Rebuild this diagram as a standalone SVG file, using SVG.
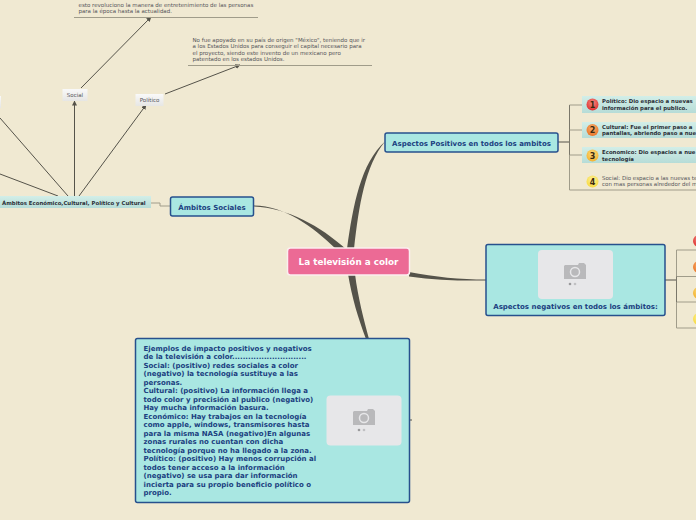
<svg xmlns="http://www.w3.org/2000/svg" width="696" height="520" viewBox="0 0 696 520">
<defs>
<style>
text{font-family:"DejaVu Sans",Verdana,sans-serif}
.blue{fill:#a9e7e2;stroke:#27508d;stroke-width:1.5}
.bt{font-size:7px;font-weight:bold;fill:#1b3f80}
.thin{fill:none;stroke:#55534a;stroke-width:1}
.mid{fill:none;stroke:#7a776a;stroke-width:1}
.pale{fill:none;stroke:#a09c8a;stroke-width:1}
.branch{fill:#55534a}
.strip{fill:url(#stripg)}
.st{font-size:5.4px;font-weight:bold;fill:#2c3038}
.nt{font-size:5.5px;fill:#55555a}
.tag{fill:url(#tagg)}
.ph{fill:#e7e7e9}
.cam{fill:#b9b9bb}
.num{font-size:8px;font-weight:bold;fill:#3a2a10;text-anchor:middle}
</style>
<linearGradient id="stripg" x1="0" y1="0" x2="0" y2="1"><stop offset="0" stop-color="#d2eee8"/><stop offset="1" stop-color="#b6dcd7"/></linearGradient>
<linearGradient id="tagg" x1="0" y1="0" x2="0" y2="1"><stop offset="0" stop-color="#f9f9f9"/><stop offset="1" stop-color="#e6e6e4"/></linearGradient>
<radialGradient id="r1" cx="0.5" cy="0.35" r="0.7"><stop offset="0" stop-color="#f58a80"/><stop offset="1" stop-color="#dc2b2b"/></radialGradient>
<radialGradient id="r2" cx="0.5" cy="0.35" r="0.7"><stop offset="0" stop-color="#f8b070"/><stop offset="1" stop-color="#e96f20"/></radialGradient>
<radialGradient id="r3" cx="0.5" cy="0.35" r="0.7"><stop offset="0" stop-color="#fbdc80"/><stop offset="1" stop-color="#f3ae28"/></radialGradient>
<radialGradient id="r4" cx="0.5" cy="0.35" r="0.7"><stop offset="0" stop-color="#fdf09a"/><stop offset="1" stop-color="#f6d838"/></radialGradient>
<marker id="ah" markerWidth="5" markerHeight="5" refX="4.500" refY="2.500" orient="auto"><path d="M0 0L5 2.500L0 5Z" fill="#55534a"/></marker>
<g id="camera">
<path class="cam" d="M-10 -7H3L4 -9H9L11 -7V7H-11V-6Z"/>
<circle cx="0" cy="0" r="4.500" fill="none" stroke="#e7e7e9" stroke-width="1.500"/>
<circle cx="-5" cy="12" r="1.300" fill="#9a9a9c"/><circle cx="0" cy="12" r="1.300" fill="#c0c0c2"/>
</g>
</defs>
<rect width="696" height="520" fill="#f0e9d2"/>
<g id="connectors">
<path class="branch" d="M254 205.500C285 206 312 226 336 249L346 249C320 226 288 208 254 206.500Z"/>
<path class="branch" d="M347 249C353 205 361 163 385 141.500C365 166 359 205 354 249Z"/>
<path class="branch" d="M409 272C435 277 460 279.500 486 279.500V280.500C460 281 435 280 409 276.500Z"/>
<path class="branch" d="M348 274L355 274C358 298 364 320 369 339L366 339C358 318 352 298 348 274Z"/>
<path class="pale" d="M170 206H160V203H151"/>
<path class="thin" d="M558 142H569"/>
<path class="mid" d="M569.500 105V155"/>
<path class="pale" d="M569.500 155V190H696M569.500 105H582M569.500 130H582M569.500 155H582"/>
<path class="thin" d="M665 280H676"/>
<path class="pale" d="M676.500 250V328H696M676.500 250H696M676.500 276.500H696M676.500 302H696"/>
<path class="mid" d="M676.500 276.500V302"/>
<path class="thin" d="M409 420H412"/>
<path class="thin" d="M58 196L0 174M68 196L0 118"/>
<path class="thin" d="M74.500 196V101" marker-end="url(#ah)"/>
<path class="thin" d="M79 196L146 105" marker-end="url(#ah)"/>
<path class="thin" d="M81 88L151 17" marker-end="url(#ah)"/>
<path class="thin" d="M165 94L240 65" marker-end="url(#ah)"/>
<path class="pale" d="M74 17.500H258M188 65.500H372"/>
</g>
<g id="central"><rect x="287.500" y="248" width="122" height="27" rx="3" fill="#ec6a95" stroke="#fbeef0" stroke-width="1.500"/><text x="348.500" y="265" text-anchor="middle" font-size="8.800" font-weight="bold" fill="#fff">La televisión a color</text></g>
<g id="ambitos"><rect class="blue" x="170.500" y="197" width="83" height="19" rx="2"/><text class="bt" x="212" y="209.500" text-anchor="middle">Ámbitos Sociales</text></g>
<g id="positivos"><rect class="blue" x="385" y="133" width="173" height="19" rx="2"/><text class="bt" x="471.500" y="145.500" text-anchor="middle">Aspectos Positivos en todos los ambitos</text></g>
<g id="negativos"><rect class="blue" x="486" y="244.500" width="179" height="71" rx="2"/><rect class="ph" x="538" y="250" width="75" height="49" rx="4"/><use href="#camera" x="575" y="272"/><text class="bt" x="575.500" y="308.500" text-anchor="middle">Aspectos negativos en todos los ámbitos:</text></g>
<g id="ejemplos"><rect class="blue" x="135.500" y="338.500" width="274" height="164" rx="2"/><rect class="ph" x="326.500" y="395.500" width="75" height="50" rx="4"/><use href="#camera" x="364" y="418"/>
<text class="bt"><tspan x="143.500" y="351">Ejemplos de impacto positivos y negativos</tspan><tspan x="143.500" y="359">de la televisión a color............................</tspan><tspan x="143.500" y="368">Social: (positivo) redes sociales a color</tspan><tspan x="143.500" y="376">(negativo) la tecnología sustituye a las</tspan><tspan x="143.500" y="385">personas.</tspan><tspan x="143.500" y="393">Cultural: (positivo) La información llega a</tspan><tspan x="143.500" y="402">todo color y precisión al publico (negativo)</tspan><tspan x="143.500" y="410">Hay mucha información basura.</tspan><tspan x="143.500" y="419">Económico: Hay trabajos en la tecnología</tspan><tspan x="143.500" y="427">como apple, windows, transmisores hasta</tspan><tspan x="143.500" y="436">para la misma NASA (negativo)En algunas</tspan><tspan x="143.500" y="444">zonas rurales no cuentan con dicha</tspan><tspan x="143.500" y="453">tecnología porque no ha llegado a la zona.</tspan><tspan x="143.500" y="461">Político: (positivo) Hay menos corrupción al</tspan><tspan x="143.500" y="470">todos tener acceso a la información</tspan><tspan x="143.500" y="478">(negativo) se usa para dar información</tspan><tspan x="143.500" y="487">incierta para su propio beneficio político o</tspan><tspan x="143.500" y="495">propio.</tspan></text></g>
<g id="sub-ambitos"><rect class="strip" x="0" y="196" width="151" height="12"/><text class="st" x="2" y="205">Ámbitos Económico,Cultural, Político y Cultural</text></g>
<g id="tag-social"><rect class="tag" x="62.500" y="89" width="25" height="12"/><text class="nt" x="75" y="97" text-anchor="middle">Social</text></g>
<g id="tag-politico"><rect class="tag" x="135.500" y="94" width="28" height="12"/><text class="nt" x="149.500" y="102" text-anchor="middle">Político</text></g>
<g id="tag-left"><rect class="tag" x="0" y="96" width="1" height="12"/></g>
<g id="note-social"><text class="nt"><tspan x="78.500" y="7">esto revoluciono la manera de entretenimiento de las personas</tspan><tspan x="78.500" y="13">para la época hasta la actualidad.</tspan></text></g>
<g id="note-politico"><text class="nt"><tspan x="192.500" y="42">No fue apoyado en su país de origen "México", teniendo que ir</tspan><tspan x="192.500" y="48">a los Estados Unidos para conseguir el capital necesario para</tspan><tspan x="192.500" y="55">el proyecto, siendo este invento de un mexicano pero</tspan><tspan x="192.500" y="61">patentado en los estados Unidos.</tspan></text></g>
<g id="pos-1"><rect class="strip" x="582" y="96" width="114" height="17"/><circle cx="592.500" cy="104.500" r="6" fill="url(#r1)"/><text class="num" x="592.500" y="107.500">1</text><text class="st"><tspan x="602" y="103">Político: Dio espacio a nuevas</tspan><tspan x="602" y="110">información para el publico.</tspan></text></g>
<g id="pos-2"><rect class="strip" x="582" y="122" width="114" height="16"/><circle cx="592.500" cy="130" r="6" fill="url(#r2)"/><text class="num" x="592.500" y="133">2</text><text class="st"><tspan x="602" y="129">Cultural: Fue el primer paso a</tspan><tspan x="602" y="135">pantallas, abriendo paso a nue</tspan></text></g>
<g id="pos-3"><rect class="strip" x="582" y="147" width="114" height="16"/><circle cx="592.500" cy="155.500" r="6" fill="url(#r3)"/><text class="num" x="592.500" y="158.500">3</text><text class="st"><tspan x="602" y="154">Economico: Dio espacios a nue</tspan><tspan x="602" y="161">tecnología</tspan></text></g>
<g id="pos-4"><circle cx="592.500" cy="181.500" r="6" fill="url(#r4)"/><text class="num" x="592.500" y="184.500">4</text><text class="nt"><tspan x="602" y="180">Social: Dio espacio a las nuevas te</tspan><tspan x="602" y="186">con mas personas alrededor del m</tspan></text></g>
<g id="neg-1"><circle cx="699" cy="241" r="6" fill="url(#r1)"/></g>
<g id="neg-2"><circle cx="699" cy="267" r="6" fill="url(#r2)"/></g>
<g id="neg-3"><circle cx="699" cy="293" r="6" fill="url(#r3)"/></g>
<g id="neg-4"><circle cx="699" cy="319" r="6" fill="url(#r4)"/></g>
</svg>
